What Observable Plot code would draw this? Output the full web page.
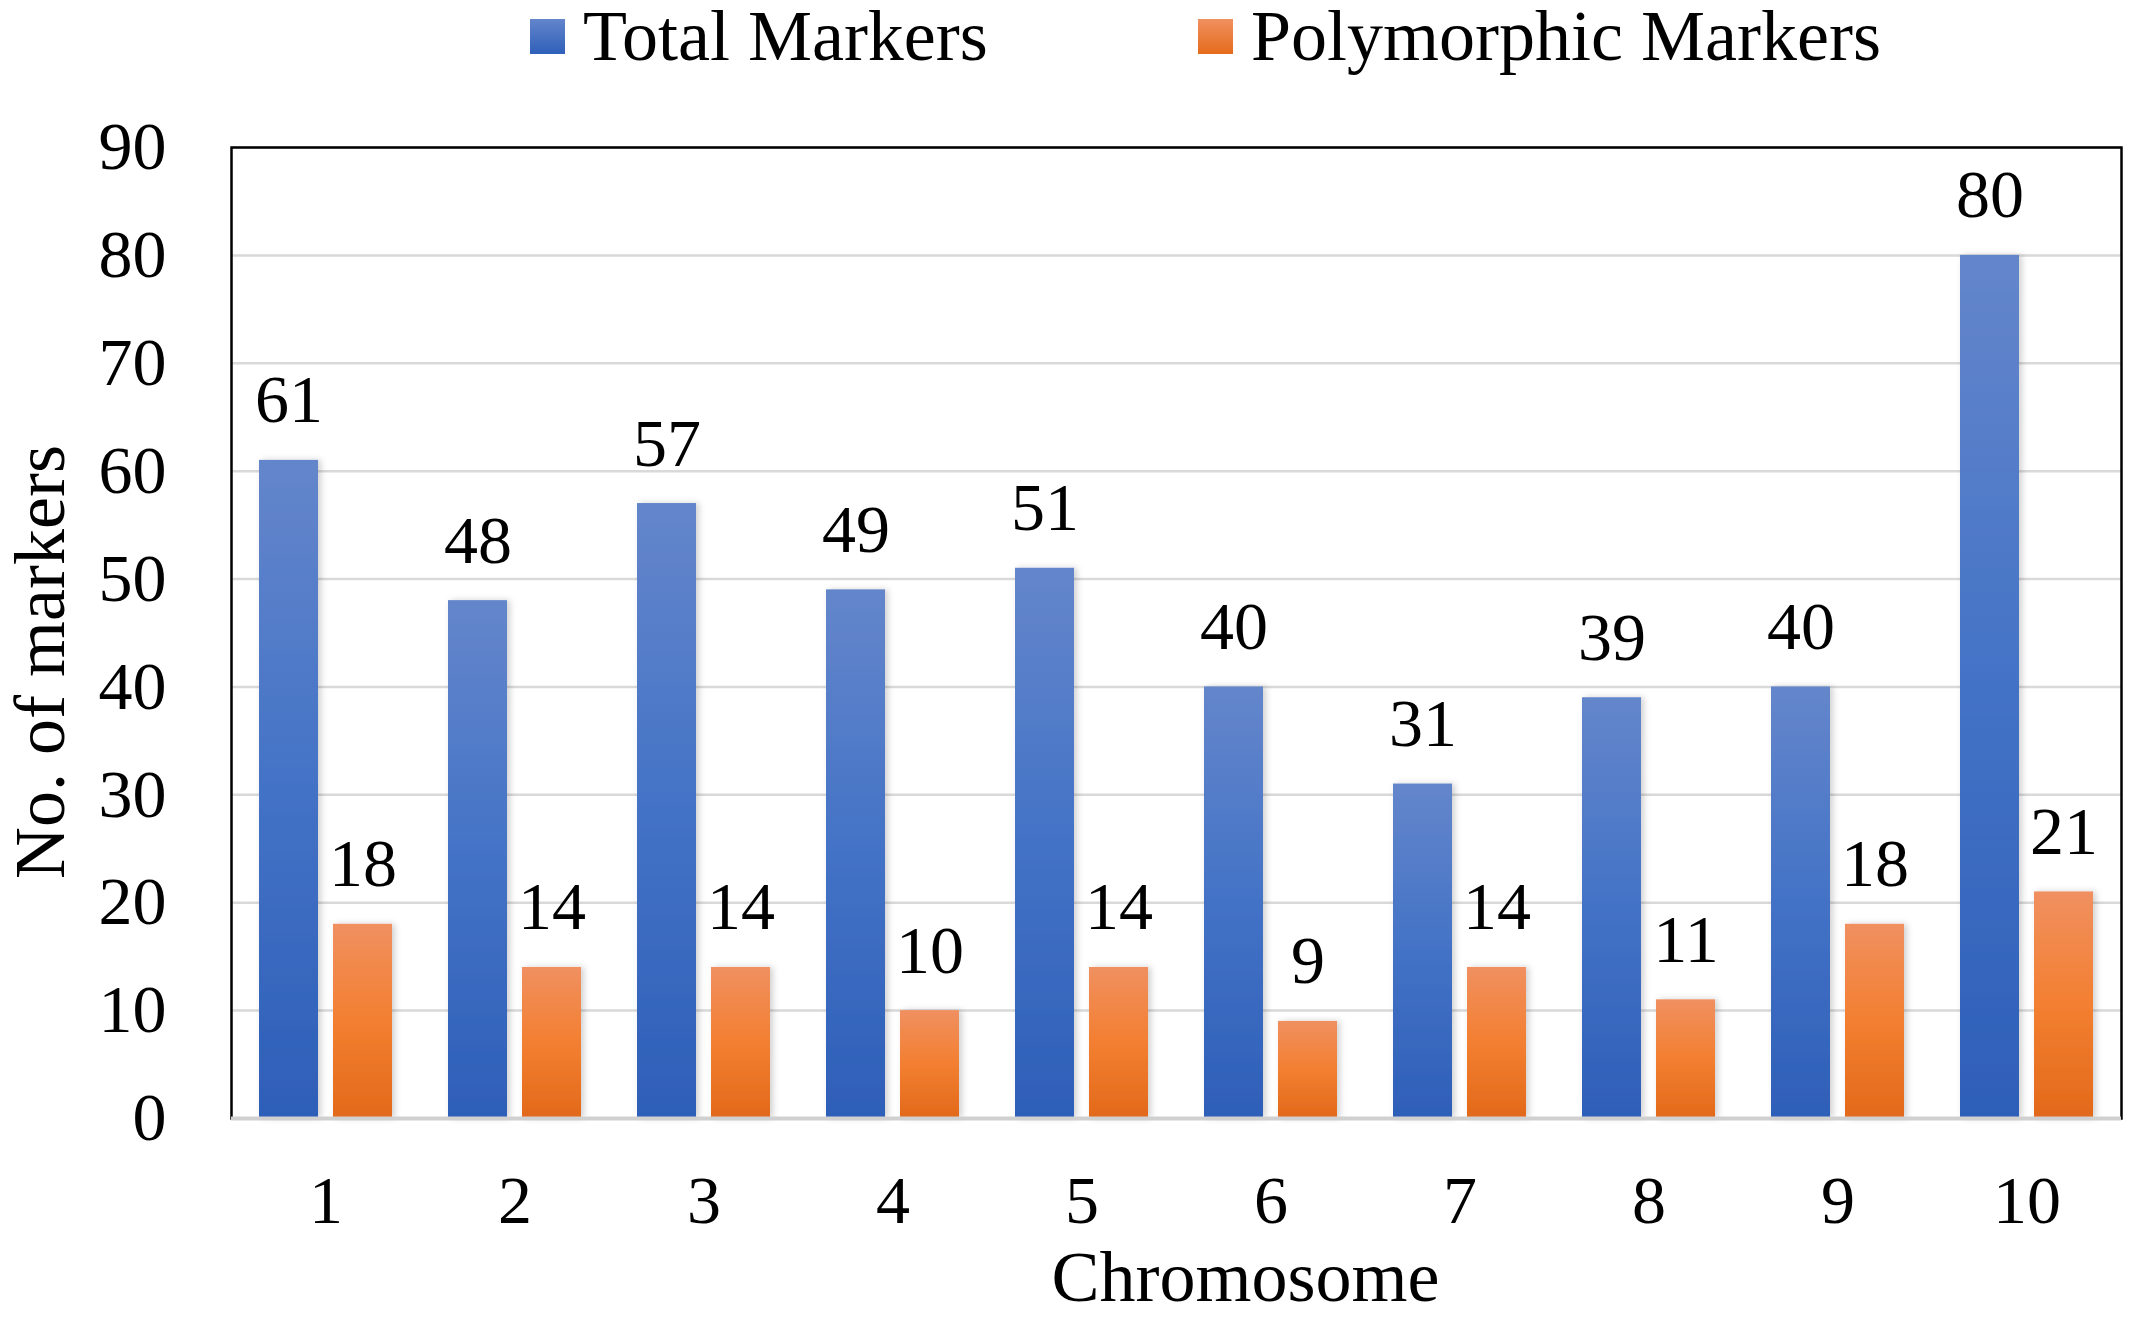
<!DOCTYPE html>
<html>
<head>
<meta charset="utf-8">
<script src="https://cdn.jsdelivr.net/npm/d3@7"></script>
<script src="https://cdn.jsdelivr.net/npm/@observablehq/plot@0.6"></script>
<style>
  html, body { margin: 0; padding: 0; background: #fff; }
  #wrap { position: relative; width: 2129px; height: 1317px; font-family: "Liberation Serif", "Times New Roman", serif; }
  #legend { position: relative; height: 95px; }
  .lg { position: absolute; top: 0; display: flex; align-items: center; font-size: 72px; line-height: 72px; color: #000; }
  .sw { width: 35px; height: 35px; margin-right: 18px; }
  #chart { position: absolute; left: 0; top: 95px; }
</style>
</head>
<body>
<div id="wrap">
  <div id="legend"></div>
  <div id="chart"></div>
</div>
<script>
const chromosomes = ["1","2","3","4","5","6","7","8","9","10"];
const totalMarkers = [61, 48, 57, 49, 51, 40, 31, 39, 40, 80];
const polymorphicMarkers = [18, 14, 14, 10, 14, 9, 14, 11, 18, 21];
const seriesNames = ["Total Markers", "Polymorphic Markers"];
const yTicks = [0, 10, 20, 30, 40, 50, 60, 70, 80, 90];

const data = chromosomes.map((c, i) => ({chr: c, total: totalMarkers[i], poly: polymorphicMarkers[i]}));

// legend
const legend = document.getElementById("legend");
const legendItems = [
  {name: seriesNames[0], grad: "linear-gradient(#6385cb, #2f60b9)", left: 530},
  {name: seriesNames[1], grad: "linear-gradient(#f09060, #e56b1b)", left: 1198}
];
for (const it of legendItems) {
  const d = document.createElement("div");
  d.className = "lg";
  d.style.left = it.left + "px";
  d.style.top = "0px";
  const sw = document.createElement("div");
  sw.className = "sw";
  sw.style.background = it.grad;
  const t = document.createElement("span");
  t.textContent = it.name;
  d.appendChild(sw);
  d.appendChild(t);
  legend.appendChild(d);
}

const defs = () => {
  const g = d3.create("svg:defs");
  const b = g.append("linearGradient").attr("id", "gBlue").attr("x1", 0).attr("x2", 0).attr("y1", 0).attr("y2", 1);
  b.append("stop").attr("offset", "0%").attr("stop-color", "#6486cb");
  b.append("stop").attr("offset", "50%").attr("stop-color", "#4372c6");
  b.append("stop").attr("offset", "100%").attr("stop-color", "#2e5fb8");
  const o = g.append("linearGradient").attr("id", "gOrange").attr("x1", 0).attr("x2", 0).attr("y1", 0).attr("y2", 1);
  o.append("stop").attr("offset", "0%").attr("stop-color", "#f09060");
  o.append("stop").attr("offset", "50%").attr("stop-color", "#f37f31");
  o.append("stop").attr("offset", "100%").attr("stop-color", "#e2691a");
  const f = g.append("filter").attr("id", "shadow").attr("x", "-20%").attr("y", "-5%").attr("width", "140%").attr("height", "110%");
  f.append("feDropShadow").attr("dx", 3).attr("dy", 0).attr("stdDeviation", 3).attr("flood-color", "#000").attr("flood-opacity", 0.18);
  return g.node();
};

const chart = Plot.plot({
  width: 2129,
  height: 1222,
  marginTop: 52,
  marginBottom: 199,
  marginLeft: 231,
  marginRight: 8,
  style: {fontFamily: "Liberation Serif, Times New Roman, serif", fontSize: "68px", color: "#000", background: "#fff"},
  x: {domain: chromosomes, padding: 0, label: null, tickSize: 0, tickPadding: 56},
  y: {domain: [0, 90], ticks: yTicks, label: null, tickSize: 0, tickPadding: 65},
  marks: [
    defs,
    Plot.ruleY(yTicks.filter(t => t > 0), {stroke: "#d9d9d9", strokeWidth: 2.5}),
    Plot.barY(data, {x: "chr", y: "total", fill: "url(#gBlue)", insetLeft: 28, insetRight: 102}),
    Plot.barY(data, {x: "chr", y: "poly", fill: "url(#gOrange)", insetLeft: 102, insetRight: 28}),
    Plot.frame({stroke: "#000", strokeWidth: 2.5}),
    Plot.ruleY([0], {stroke: "#d0d0d0", strokeWidth: 4}),
    Plot.text(data, {x: "chr", y: "total", text: d => String(d.total), dx: -37, dy: -38, lineAnchor: "bottom", fontSize: 68, fill: "#000"}),
    Plot.text(data, {x: "chr", y: "poly", text: d => String(d.poly), dx: 37, dy: -38, lineAnchor: "bottom", fontSize: 68, fill: "#000"}),
    Plot.text(["No. of markers"], {frameAnchor: "left", textAnchor: "middle", lineAnchor: "middle", dx: -191, dy: 29, rotate: -90, fontSize: 72, fill: "#000"}),
    Plot.text(["Chromosome"], {frameAnchor: "bottom", textAnchor: "middle", dx: 69, dy: 182, fontSize: 72, fill: "#000"})
  ]
});
d3.select(chart).selectAll("[aria-label='bar'] rect").attr("filter", "url(#shadow)");
document.getElementById("chart").appendChild(chart);
</script>
</body>
</html>
